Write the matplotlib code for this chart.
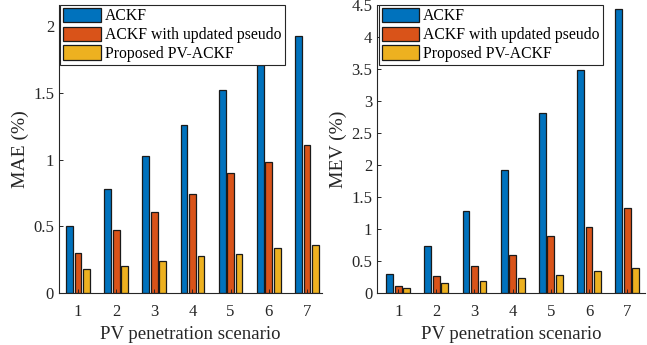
import matplotlib.pyplot as plt
import numpy as np

scenarios = [1, 2, 3, 4, 5, 6, 7]
series_names = ["ACKF", "ACKF with updated pseudo", "Proposed PV-ACKF"]

mae_ackf = [0.50, 0.78, 1.03, 1.26, 1.52, 1.71, 1.93]
mae_updated = [0.30, 0.47, 0.61, 0.74, 0.90, 0.98, 1.11]
mae_proposed = [0.18, 0.20, 0.24, 0.28, 0.29, 0.34, 0.36]

mev_ackf = [0.30, 0.73, 1.28, 1.92, 2.81, 3.48, 4.44]
mev_updated = [0.11, 0.26, 0.42, 0.59, 0.89, 1.03, 1.32]
mev_proposed = [0.08, 0.15, 0.19, 0.235, 0.28, 0.335, 0.385]

colors = ["#0072BD", "#D95319", "#EDB120"]
dark = "#262626"

plt.rcParams["font.family"] = ["Liberation Serif", "DejaVu Serif"]


def draw_bars(ax, groups, yticks, ylim, ylabel, xlim):
    x = np.array(scenarios, dtype=float)
    step = 0.222
    width = 0.178
    for i, (vals, col, name) in enumerate(zip(groups, colors, series_names)):
        ax.bar(x + (i - 1) * step, vals, width=width, color=col,
               edgecolor="#1a1a1a", linewidth=0.9, label=name)
    ax.set_xlim(*xlim)
    ax.set_ylim(*ylim)
    ax.set_xticks(scenarios)
    ax.set_yticks(yticks)
    ax.set_yticklabels([f"{t:g}" for t in yticks])
    ax.set_xlabel("PV penetration scenario", fontsize=13.5, color=dark, labelpad=4)
    ax.set_ylabel(ylabel, fontsize=14, color=dark, labelpad=3)
    ax.tick_params(direction="in", length=3, labelsize=12, colors=dark, width=0.7)
    ax.tick_params(axis="x", pad=8)
    for side in ["top", "right"]:
        ax.spines[side].set_visible(False)
    for side in ["left", "bottom"]:
        ax.spines[side].set_color(dark)
        ax.spines[side].set_linewidth(0.8)
    leg = ax.legend(loc="upper left", bbox_to_anchor=(0.005, 1.0), fontsize=11.3,
                    handlelength=2.4, handleheight=1.0, handletextpad=0.25,
                    labelspacing=0.15, borderpad=0.2, borderaxespad=0.0,
                    fancybox=False, framealpha=1)
    leg.get_frame().set_edgecolor(dark)
    leg.get_frame().set_linewidth(0.8)


fig = plt.figure(figsize=(6.47, 3.45), dpi=100)
ax1 = fig.add_axes([0.091, 0.151, 0.407, 0.835])
ax2 = fig.add_axes([0.583, 0.151, 0.414, 0.835])

draw_bars(ax1, [mae_ackf, mae_updated, mae_proposed],
          [0, 0.5, 1, 1.5, 2], (0, 2.16), "MAE (%)", (0.5, 7.4))
draw_bars(ax2, [mev_ackf, mev_updated, mev_proposed],
          [0, 0.5, 1, 1.5, 2, 2.5, 3, 3.5, 4, 4.5], (0, 4.5), "MEV (%)", (0.45, 7.47))

fig.savefig("out.png", dpi=100)
